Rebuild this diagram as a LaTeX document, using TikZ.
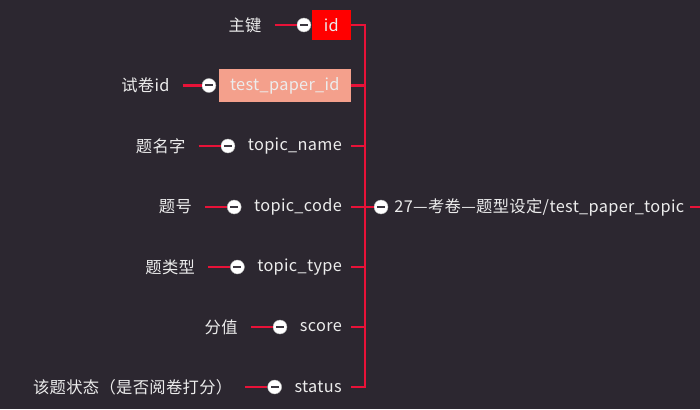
\documentclass[tikz,border=0pt]{standalone}
\usepackage{fontspec}
\setmainfont[LetterSpace=2]{Noto Sans CJK SC}
\usetikzlibrary{positioning}
\definecolor{bgc}{RGB}{44,39,48}
\definecolor{linec}{RGB}{232,18,56}
\definecolor{idred}{RGB}{255,0,0}
\definecolor{salmonc}{RGB}{244,160,140}
\definecolor{txtc}{RGB}{236,236,236}
\definecolor{barc}{RGB}{60,56,64}
\newcommand\fsz{\fontsize{16.3}{19}\selectfont}
\tikzset{
  conn/.style={draw=linec, line width=2.5pt, line join=miter},
  field/.style={anchor=east, text=txtc, font=\fsz, inner xsep=9pt, inner ysep=2pt},
  boxfield/.style={anchor=east, text=txtc, font=\fsz, inner sep=0pt},
  lbl/.style={text=txtc, font=\fsz, inner xsep=13pt, inner ysep=2pt},
  knob/.style={circle, fill=white, draw=black!30, line width=0.4pt, minimum size=14pt, inner sep=0pt,
    path picture={\fill[barc] ([xshift=-4pt,yshift=-1pt]path picture bounding box.center) rectangle ([xshift=4pt,yshift=1pt]path picture bounding box.center);}},
}
\begin{document}
\begin{tikzpicture}[x=1pt,y=-1pt]
\fill[bgc] (0,0) rectangle (700,409);
\useasboundingbox (0,0) rectangle (700,409);
\coordinate (top) at (365,25);
\coordinate (bot) at (365,387);
\coordinate (rend) at (700,207);
% fields
\node[boxfield, fill=idred, minimum width=39pt, minimum height=30pt] (f1) at (351,25) {id};
\node[boxfield, fill=salmonc, minimum width=132pt, minimum height=33pt] (f2) at (351,85.5) {test\_paper\_id};
\node[field] (f3) at (351,146) {topic\_name};
\node[field] (f4) at (351,207) {topic\_code};
\node[field] (f5) at (351,267) {topic\_type};
\node[field] (f6) at (351,327) {score};
\node[field] (f7) at (351,387) {status};
% knobs
\node[knob, left=0.5pt of f1] (k1) {};
\node[knob, left=2.5pt of f2] (k2) {};
\node[knob, left=3.5pt of f3] (k3) {};
\node[knob, left=3.5pt of f4] (k4) {};
\node[knob, left=3.5pt of f5] (k5) {};
\node[knob, left=3.5pt of f6] (k6) {};
\node[knob, left=3.5pt of f7] (k7) {};
% labels
\node[lbl, left=22pt of k1] (l1) {主键};
\node[lbl, left=19pt of k2] (l2) {试卷id};
\node[lbl, left=22pt of k3] (l3) {题名字};
\node[lbl, left=22pt of k4] (l4) {题号};
\node[lbl, left=22pt of k5] (l5) {题类型};
\node[lbl, left=22pt of k6] (l6) {分值};
\node[lbl, left=22pt of k7] (l7) {该题状态（是否阅卷打分）};
\foreach \i in {1,...,7}{
  \draw[conn] (l\i.east) -- (k\i.west);
}
% trunk
\draw[conn] (f1.east) -- (top) -- (bot) -- (f7.east);
\foreach \i in {2,...,6}{
  \draw[conn] (f\i.east) -- (f\i.east -| top);
}
% root
\node[knob] (rk) at (381,207) {};
\node[lbl, anchor=west, inner xsep=6pt] (root) at (rk.east) {27—考卷—题型设定/test\_paper\_topic};
\draw[conn] (rk.west -| top) -- (rk.west);
\draw[conn] (root.east) -- (root.east -| rend);
\end{tikzpicture}
\end{document}
